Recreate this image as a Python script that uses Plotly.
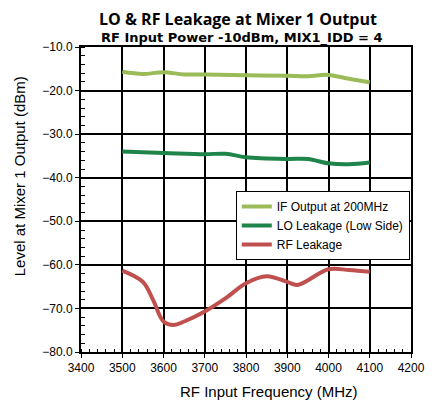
import plotly.graph_objects as go

# frequency points (MHz)
freq_if = [3500, 3550, 3600, 3650, 3700, 3800, 3900, 3950, 4000, 4050, 4100]
if_output = [-15.7, -16.2, -15.8, -16.3, -16.3, -16.5, -16.6, -16.7, -16.4, -17.3, -18.1]

freq_lo = [3500, 3600, 3700, 3750, 3800, 3900, 3950, 4000, 4050, 4100]
lo_leak = [-34.0, -34.3, -34.6, -34.5, -35.3, -35.7, -35.7, -36.7, -36.9, -36.5]

freq_rf = [3500, 3550, 3575, 3600, 3625, 3650, 3700, 3750, 3800, 3850, 3900, 3925, 4000, 4050, 4100]
rf_leak = [-61.3, -63.9, -68.1, -73.0, -73.8, -73.0, -70.7, -67.7, -64.2, -62.6, -63.9, -64.6, -61.0, -61.2, -61.6]

series_names = ["IF Output at 200MHz", "LO Leakage (Low Side)", "RF Leakage"]
series_colors = ["#9BBB59", "#1E8449", "#C0504D"]

fig = go.Figure()
for xs, ys, name, col in zip([freq_if, freq_lo, freq_rf], [if_output, lo_leak, rf_leak],
                             series_names, series_colors):
    fig.add_trace(go.Scatter(x=xs, y=ys, name=name, mode="lines",
                             line=dict(color=col, width=4, shape="spline", smoothing=1)))

# la page a une marge de 8px : figure 429x392 pour remplir la fenêtre
fig.update_layout(
    width=429, height=392,
    margin=dict(l=73, r=19, t=39, b=48),
    paper_bgcolor="white", plot_bgcolor="white",
    font=dict(family="Liberation Sans, Arial, sans-serif", size=12, color="black"),
    legend=dict(x=0.469, y=0.528, xanchor="left", yanchor="top",
                bgcolor="white", bordercolor="black", borderwidth=1,
                font=dict(size=12), tracegroupgap=0, itemwidth=30),
    showlegend=True,
)

# titres en annotations pour garder la position exacte
fig.add_annotation(text="LO & RF Leakage at Mixer 1 Output", xref="paper", yref="paper",
                   x=0.475, y=1.092, xanchor="center", yanchor="middle", showarrow=False,
                   font=dict(family="Open Sans, sans-serif", size=16, weight=700))
fig.add_annotation(text="RF Input Power -10dBm, MIX1_IDD = 4", xref="paper", yref="paper",
                   x=0.489, y=1.030, xanchor="center", yanchor="middle", showarrow=False,
                   font=dict(family="DejaVu Sans, sans-serif", size=13, weight=700))
fig.add_annotation(text="RF Input Frequency (MHz)", xref="paper", yref="paper",
                   x=0.57, y=-0.131, xanchor="center", yanchor="middle", showarrow=False,
                   font=dict(size=15))
fig.add_annotation(text="Level at Mixer 1 Output (dBm)", xref="paper", yref="paper",
                   x=-0.187, y=0.577, xanchor="center", yanchor="middle", showarrow=False,
                   textangle=-90, font=dict(size=15))

fig.update_xaxes(
    range=[3400, 4200], dtick=100, tick0=3400,
    showgrid=True, gridcolor="black", gridwidth=1.5,
    showline=True, linecolor="black", linewidth=2, mirror=True,
    ticks="outside", ticklen=4, tickcolor="black",
    minor=dict(dtick=20, ticks="inside", ticklen=3, tickcolor="black", showgrid=False),
    zeroline=False,
)
fig.update_yaxes(
    range=[-80, -10], dtick=10, tick0=-80, tickformat=".1f",
    showgrid=True, gridcolor="black", gridwidth=1.5,
    showline=True, linecolor="black", linewidth=2, mirror=True,
    ticks="outside", ticklen=4, tickcolor="black",
    minor=dict(dtick=2, ticks="inside", ticklen=4, tickcolor="black", showgrid=False),
    zeroline=False,
)

fig.write_html("out.html")
